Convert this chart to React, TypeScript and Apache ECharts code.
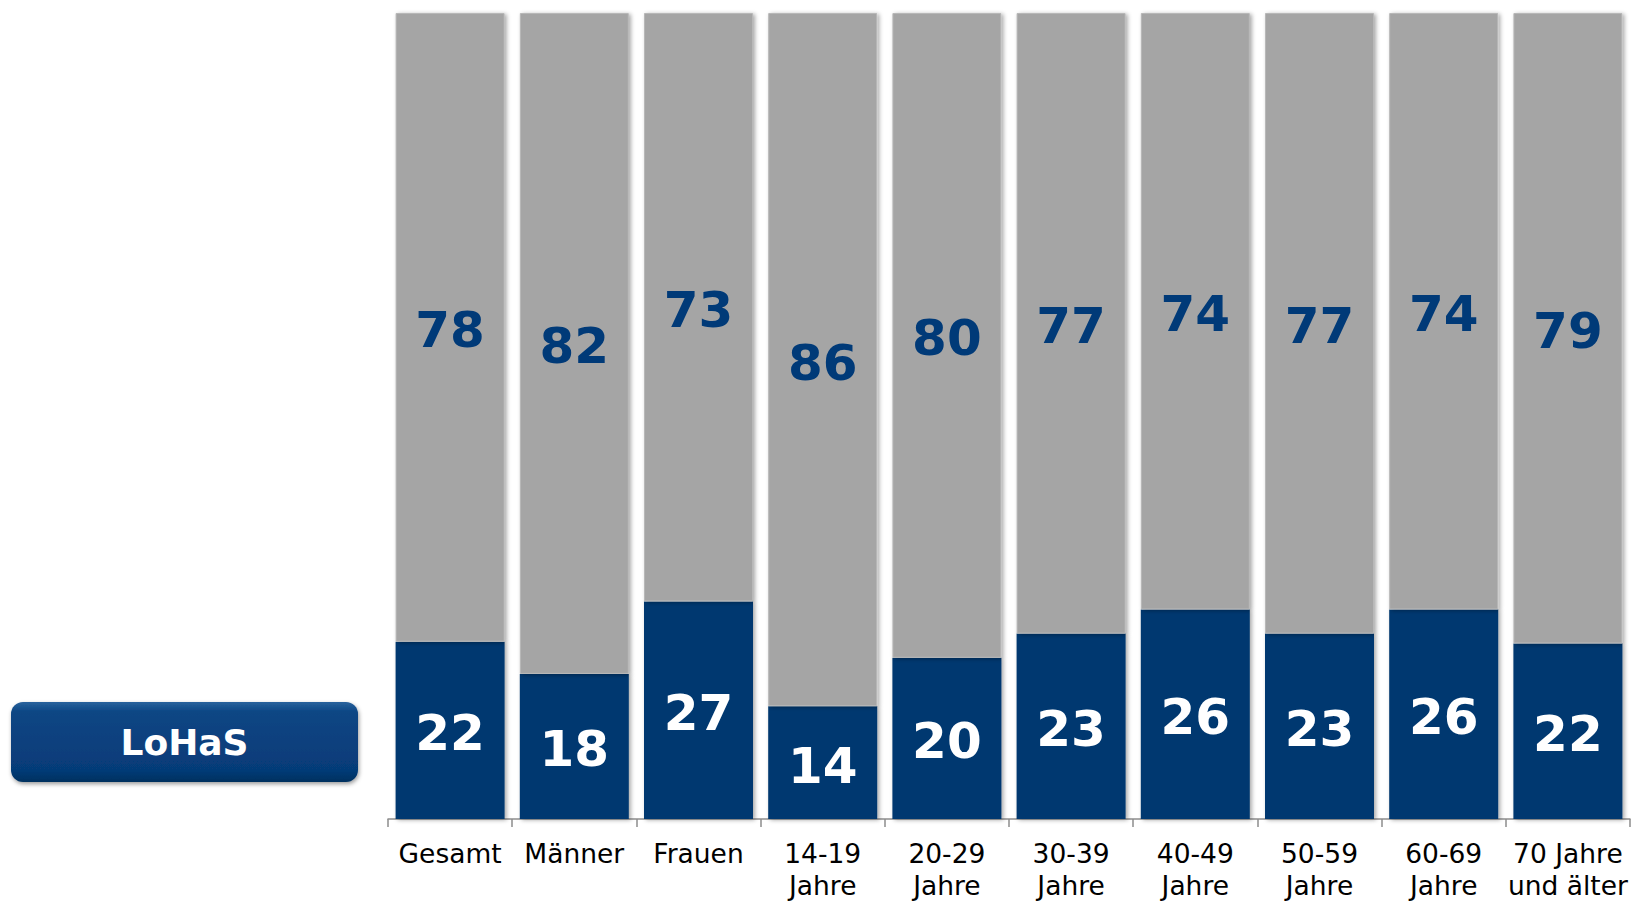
import React, { useEffect, useRef } from "react";
import * as echarts from "echarts";

const categories = [
  "Gesamt",
  "Männer",
  "Frauen",
  "14-19\nJahre",
  "20-29\nJahre",
  "30-39\nJahre",
  "40-49\nJahre",
  "50-59\nJahre",
  "60-69\nJahre",
  "70 Jahre\nund älter",
];
const lohasValues = [22, 18, 27, 14, 20, 23, 26, 23, 26, 22];
const otherValues = [78, 82, 73, 86, 80, 77, 74, 77, 74, 79];
const buttonLabel = "LoHaS";

const FONT = "'DejaVu Sans', Verdana, sans-serif";

export default function App() {
  const ref = useRef<HTMLDivElement>(null);
  useEffect(() => {
    if (!ref.current) return;
    const chart = echarts.init(ref.current, null, { renderer: "svg" });
    const shadow = {
      shadowColor: "rgba(0,0,0,0.35)",
      shadowBlur: 4,
      shadowOffsetX: 2,
      shadowOffsetY: 1,
    };
    // 100% stacked: each segment's share of its column total; labels show the raw values
    const totals = lohasValues.map((v, i) => v + otherValues[i]);
    const lohasData = lohasValues.map((v, i) => ({ value: (v / totals[i]) * 100, raw: v }));
    const otherData = otherValues.map((v, i) => ({ value: (v / totals[i]) * 100, raw: v }));
    const fmt = (p: any) => String(p.data.raw);
    chart.setOption({
      animation: false,
      backgroundColor: "#ffffff",
      grid: { left: 388, right: 2, top: 13, bottom: 82, outerBoundsMode: "none", containLabel: false },
      xAxis: {
        type: "category",
        data: categories,
        axisLine: { show: true, lineStyle: { color: "#8c8c8c", width: 1.5 } },
        axisTick: { show: true, length: 8, lineStyle: { color: "#8c8c8c", width: 1.5 } },
        axisLabel: {
          color: "#000000",
          fontFamily: FONT,
          fontSize: 26.5,
          lineHeight: 32,
          margin: 18,
          interval: 0,
        },
      },
      yAxis: { type: "value", min: 0, max: 100, show: false, splitLine: { show: false } },
      series: [
        {
          type: "bar",
          stack: "total",
          data: lohasData,
          barWidth: 109,
          itemStyle: { color: "#00386f", ...shadow },
          label: {
            show: true,
            position: "inside",
            offset: [0, 3],
            formatter: fmt,
            color: "#ffffff",
            fontFamily: FONT,
            fontWeight: "bold",
            fontSize: 50,
          },
        },
        {
          type: "bar",
          stack: "total",
          data: otherData,
          barWidth: 109,
          itemStyle: { color: "#a5a5a5", borderColor: "#b8b8b8", borderWidth: 1, ...shadow },
          label: {
            show: true,
            position: "inside",
            offset: [0, 3],
            formatter: fmt,
            color: "#003a78",
            fontFamily: FONT,
            fontWeight: "bold",
            fontSize: 50,
          },
        },
      ],
      graphic: [
        {
          type: "rect",
          shape: { x: 11, y: 702, width: 347, height: 80, r: 12 },
          style: {
            fill: new echarts.graphic.LinearGradient(0, 0, 0, 1, [
              { offset: 0, color: "#2a629c" },
              { offset: 0.12, color: "#0c4684" },
              { offset: 0.85, color: "#063b78" },
              { offset: 1, color: "#03315f" },
            ]),
            shadowColor: "rgba(0,0,0,0.4)",
            shadowBlur: 4,
            shadowOffsetX: 1,
            shadowOffsetY: 2,
          },
        },
        {
          type: "text",
          x: 184.5,
          y: 742,
          style: {
            text: buttonLabel,
            fill: "#ffffff",
            font: `bold 36px ${FONT}`,
            textAlign: "center",
            textVerticalAlign: "middle",
          },
        },
      ],
    });
    return () => chart.dispose();
  }, []);
  return (
    <div
      ref={ref}
      style={{ position: "fixed", left: 0, top: 0, width: 1632, height: 901, background: "#fff" }}
    />
  );
}
